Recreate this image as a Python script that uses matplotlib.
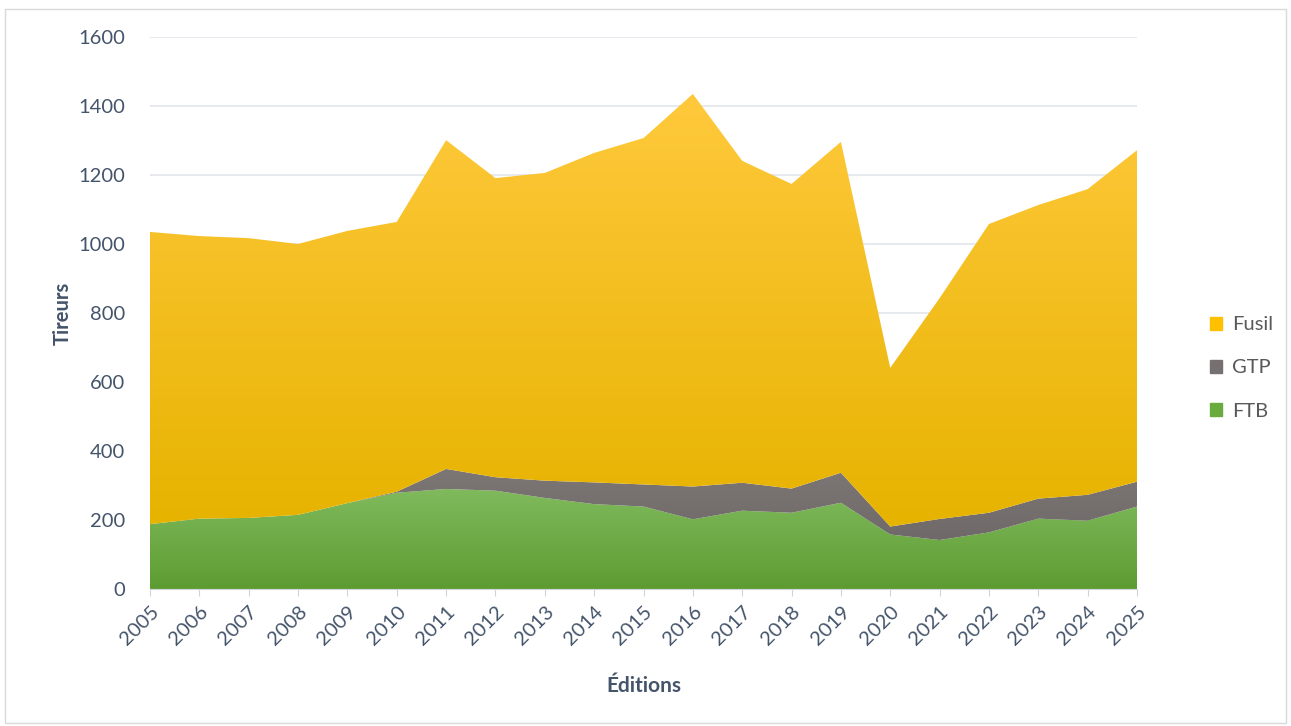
import numpy as np
import matplotlib
import matplotlib.pyplot as plt
from matplotlib.colors import LinearSegmentedColormap
from matplotlib.patches import Rectangle

matplotlib.rcParams['font.family'] = ['Lato', 'DejaVu Sans']

years = list(range(2005, 2026))
ftb = [188, 204, 206, 215, 249, 279, 290, 285, 264, 246, 239,
       202, 227, 221, 250, 158, 142, 164, 204, 198, 239]
gtp = [0, 0, 0, 0, 0, 3, 58, 39, 50, 63, 64,
       95, 81, 70, 87, 23, 61, 57, 58, 75, 72]
fusil = [847, 819, 811, 785, 789, 782, 953, 867, 892, 955, 1004,
         1138, 933, 883, 959, 460, 640, 837, 851, 886, 961]

series = ['FTB', 'GTP', 'Fusil']
grads = {'FTB': ('#5d9c31', '#80ba5d'),
         'GTP': ('#6f6969', '#7c7674'),
         'Fusil': ('#e6b300', '#ffc93c')}
legend_col = {'FTB': '#6aab3e', 'GTP': '#767070', 'Fusil': '#ffc000'}

txt = '#44546a'

fig = plt.figure(figsize=(12.91, 7.26), dpi=100)
ax = fig.add_axes([150/1291, 1-589/726, (1137-150)/1291, (589-37)/726])
fig.patches.append(Rectangle((0.004, 0.004), 0.992, 0.984, transform=fig.transFigure,
                             fill=False, edgecolor='#d9d9d9', lw=1))

x = np.array(years)
base = np.zeros(len(x))
vals = {'FTB': ftb, 'GTP': gtp, 'Fusil': fusil}
for name in series:
    top = base + np.array(vals[name])
    poly = ax.fill_between(x, base, top, color='none', lw=0)
    lo, hi = grads[name]
    cmap = LinearSegmentedColormap.from_list(name, [lo, hi])
    ymin, ymax = base.min(), top.max()
    grad = np.linspace(0, 1, 256).reshape(-1, 1)
    im = ax.imshow(grad, cmap=cmap, aspect='auto', origin='lower',
                   extent=[x[0], x[-1], ymin, ymax], zorder=2)
    im.set_clip_path(poly.get_paths()[0], transform=ax.transData)
    base = top

ax.set_xlim(2005, 2025)
ax.set_ylim(0, 1600)
ax.set_yticks(range(0, 1601, 200))
ax.set_xticks(years)
ax.set_xticklabels([str(y) for y in years], rotation=45, ha='right',
                   rotation_mode='anchor')
ax.grid(axis='y', color='#e1e5eb', lw=1.2, zorder=0)
ax.set_axisbelow(True)
for s in ['top', 'right', 'left']:
    ax.spines[s].set_visible(False)
ax.spines['bottom'].set_color('#d0d5dc')
ax.tick_params(axis='y', length=0, pad=18, labelsize=14.5, labelcolor=txt)
ax.tick_params(axis='x', length=5, color='#d0d5dc', labelsize=14.5, labelcolor=txt, pad=5)
ax.set_xlabel('Éditions', fontsize=15, fontweight='bold', color=txt, labelpad=20)
ax.set_ylabel('Tireurs', fontsize=14.5, fontweight='bold', color=txt, labelpad=4)

handles = [Rectangle((0, 0), 1, 1, color=legend_col[n]) for n in series[::-1]]
fig.legend(handles, series[::-1], loc='center left', bbox_to_anchor=(1192/1291, 1-368/726),
           frameon=False, fontsize=14.5, labelcolor='#595959', handlelength=0.6,
           handleheight=0.6, handletextpad=0.5, labelspacing=1.3)

fig.savefig('out.png', dpi=100)
